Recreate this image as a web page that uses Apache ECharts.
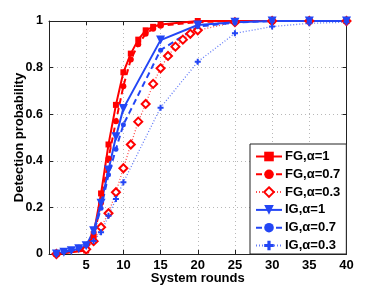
<!DOCTYPE html>
<html><head><meta charset="utf-8">
<script src="https://cdn.jsdelivr.net/npm/echarts@6/dist/echarts.min.js"></script>
<style>html,body{margin:0;padding:0;background:#fff}#c{width:382px;height:287px}</style>
</head><body><div id="c"></div>
<script>
var xFGa = [1,5,6,7,8,9,10,11,12,13,14,15,20,25,30,35,40];
var yFG1 = [0,0.015,0.085,0.26,0.47,0.64,0.78,0.86,0.92,0.96,0.975,0.985,1,1,1,1,1];
var yFG07 = [0,0.02,0.07,0.22,0.41,0.57,0.72,0.835,0.9,0.945,0.967,0.98,0.995,1,1,1,1];
var xFG03 = [1,5,6,7,8,9,10,11,12,13,14,15,16,17,18,19,20,25,30,35,40];
var yFG03 = [0,0.02,0.055,0.115,0.175,0.265,0.368,0.47,0.568,0.644,0.73,0.797,0.85,0.89,0.92,0.945,0.96,0.995,1,1,1];
var xIG = [1,2,3,4,5,6,7,8,9,10,15,20,25,30,35,40];
var yIG1 = [0,0.008,0.014,0.022,0.035,0.1,0.218,0.36,0.503,0.625,0.918,0.983,0.995,1,1,1];
var yIG07 = [0,0.01,0.017,0.027,0.038,0.093,0.196,0.34,0.45,0.555,0.875,0.976,0.993,1,1,1];
var yIG03 = [0,0.01,0.017,0.027,0.038,0.056,0.093,0.164,0.236,0.308,0.628,0.825,0.947,0.976,0.99,0.995];
var names = ['FG,\u03b1=1','FG,\u03b1=0.7','FG,\u03b1=0.3','IG,\u03b1=1','IG,\u03b1=0.7','IG,\u03b1=0.3'];
var xTicks = {min:0, max:40, interval:5};
var yTicks = {min:0, max:1, interval:0.2};

function pairs(xs, ys){ return xs.map(function(x,i){return [x, ys[i]];}); }
var RED = '#ff0000', BLUE = '#2346f5';
var FONT = '"Liberation Sans", Arial, sans-serif';
var plusPath = 'path://M2,0H4V2H6V4H4V6H2V4H0V2H2Z';

var chart = echarts.init(document.getElementById('c'), null, {renderer:'canvas'});
var axisCommon = {
  axisLine:{show:true, onZero:false, lineStyle:{color:'#222', width:1}},
  axisTick:{show:true, inside:true, length:4, lineStyle:{color:'#222'}}
};
chart.setOption({
  animation:false,
  backgroundColor:'#fff',
  grid:{left:49, right:35.5, top:21, bottom:33, containLabel:false, outerBoundsMode:'none'},
  xAxis:[
    Object.assign({type:'value', min:xTicks.min, max:xTicks.max, interval:xTicks.interval,
      name:'System rounds', nameLocation:'middle', nameGap:18, nameMoveOverlap:false,
      nameTextStyle:{fontFamily:FONT, fontWeight:'bold', fontSize:13, color:'#000'},
      axisLabel:{fontFamily:FONT, fontWeight:'bold', fontSize:13, color:'#000', margin:5,
        formatter:function(v){return v===0?'':String(v);}},
      splitLine:{show:true, lineStyle:{color:'#b8b8b8', type:[1,3], width:1}}
    }, axisCommon),
    Object.assign({type:'value', position:'top', min:xTicks.min, max:xTicks.max, interval:xTicks.interval,
      axisLabel:{show:false}, splitLine:{show:false}}, axisCommon)
  ],
  yAxis:[
    Object.assign({type:'value', min:yTicks.min, max:yTicks.max, interval:yTicks.interval,
      name:'Detection probability', nameLocation:'middle', nameGap:23, nameMoveOverlap:false,
      nameTextStyle:{fontFamily:FONT, fontWeight:'bold', fontSize:13, color:'#000'},
      axisLabel:{fontFamily:FONT, fontWeight:'bold', fontSize:12.5, color:'#000', margin:6,
        formatter:function(v){return String(Math.round(v*10)/10);}},
      splitLine:{show:true, lineStyle:{color:'#b8b8b8', type:[1,3], width:1}}
    }, axisCommon),
    Object.assign({type:'value', position:'right', min:yTicks.min, max:yTicks.max, interval:yTicks.interval,
      axisLabel:{show:false}, splitLine:{show:false}}, axisCommon)
  ],
  legend:{
    orient:'vertical', left:250, top:144, width:90,
    backgroundColor:'#fff', borderColor:'#222', borderWidth:1, borderRadius:0,
    padding:[6,6,2,5], itemGap:4.8, itemWidth:26, itemHeight:12,
    textStyle:{fontFamily:FONT, fontWeight:'bold', fontSize:13, lineHeight:12, color:'#000', padding:[0,0,0,-2]},
    data:names
  },
  series:[
    {name:names[0], type:'line', data:pairs(xFGa,yFG1), symbol:'rect', symbolSize:6,
      itemStyle:{color:RED}, lineStyle:{color:RED, width:2}},
    {name:names[1], type:'line', data:pairs(xFGa,yFG07), symbol:'circle', symbolSize:6,
      itemStyle:{color:RED}, lineStyle:{color:RED, width:2, type:[6,4]}},
    {name:names[2], type:'line', data:pairs(xFG03,yFG03), symbol:'diamond', symbolSize:8,
      itemStyle:{color:'#fff', borderColor:RED, borderWidth:2}, lineStyle:{color:RED, width:1.3, type:[1,2], opacity:0.7}},
    {name:names[3], type:'line', data:pairs(xIG,yIG1), symbol:'triangle', symbolRotate:180, symbolSize:9,
      itemStyle:{color:BLUE}, lineStyle:{color:BLUE, width:2}},
    {name:names[4], type:'line', data:pairs(xIG,yIG07), symbol:'circle', symbolSize:5,
      itemStyle:{color:BLUE}, lineStyle:{color:BLUE, width:2, type:[6,4]}},
    {name:names[5], type:'line', data:pairs(xIG,yIG03), symbol:plusPath, symbolSize:6,
      itemStyle:{color:BLUE}, lineStyle:{color:BLUE, width:1.3, type:[1,2], opacity:0.7}}
  ]
});
</script></body></html>
